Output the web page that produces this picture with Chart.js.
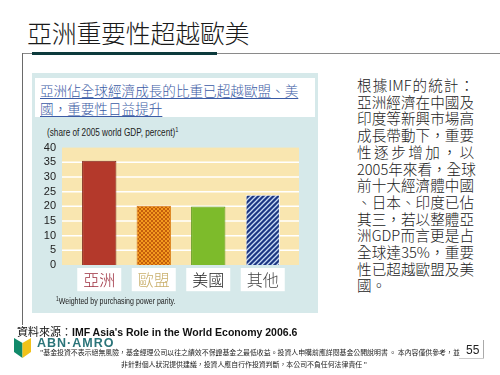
<!DOCTYPE html>
<html>
<head>
<meta charset="utf-8">
<script src="https://cdn.jsdelivr.net/npm/chart.js@4"></script>
<style>
  body{margin:0;width:500px;height:375px;background:#fff;position:relative;overflow:hidden;
       font-family:'Noto Sans CJK TC','Noto Sans',sans-serif;color:#222}
  .abs{position:absolute;white-space:nowrap}
  .title{left:27px;top:14px;font-size:25px;line-height:36px;color:#1a1a1a;font-weight:300;letter-spacing:-0.3px}
  .bar-dark{left:32px;top:52px;width:185px;height:3px;background:#0c3a3c}
  .line-h{left:22px;top:53px;width:478px;height:1px;background:#8a8a8a}
  .line-v{left:22px;top:53px;width:1px;height:272px;background:#6a6a6a}
  .panel{left:32px;top:73px;width:286px;height:240px;background:#d6e9ea}
  .head{left:35px;top:78px;width:280px;height:39px;background:#fff}
  .head div{position:absolute;left:5px;font-size:13.6px;line-height:18px;color:#3b5ba5;text-decoration:underline;text-underline-offset:2px;font-weight:300}
  .narrow{transform-origin:0 0;transform:scaleX(0.78)}
  .ylab{left:47px;top:126px;font-family:'Liberation Sans',sans-serif;font-size:10.5px;color:#222}
  .foot{left:56px;top:296px;font-family:'Liberation Sans',sans-serif;font-size:9px;color:#222}
  sup{font-size:70%;vertical-align:top;position:relative;top:-1px}
  .side{left:357px;top:77px;width:117px;font-size:14.6px;line-height:16.7px;color:#222;font-weight:300}
  .side div{text-align:justify;text-align-last:justify;white-space:nowrap}
  .src{left:17px;top:323px;font-size:11px;color:#111}
  .src b{font-family:'Liberation Sans',Arial,sans-serif;font-weight:bold;font-size:10.5px}
  .abn{left:37px;top:336px;font-family:'Liberation Sans',Arial,sans-serif;font-weight:bold;font-size:12.5px;color:#2b7479;letter-spacing:1px}
  .disc{font-size:6.9px;line-height:9px;color:#222;letter-spacing:0}
  .pg{left:466px;top:343px;font-family:'Liberation Sans',Arial,sans-serif;font-size:12px;color:#222}
  .pg-v{left:483px;top:340px;width:1px;height:19px;background:#aaa}
  .pg-h{left:459px;top:358px;width:25px;height:1px;background:#ccc}
  canvas{position:absolute;left:32px;top:125px}
</style>
</head>
<body>
<div class="abs title">亞洲重要性超越歐美</div>
<div class="abs line-h"></div>
<div class="abs bar-dark"></div>
<div class="abs line-v"></div>

<div class="abs panel"></div>
<div class="abs head">
  <div style="top:3px">亞洲佔全球經濟成長的比重已超越歐盟、美</div>
  <div style="top:21px">國，重要性日益提升</div>
</div>
<div class="abs ylab narrow">(share of 2005 world GDP, percent)<sup>1</sup></div>
<canvas id="chart" width="286" height="175"></canvas>
<div class="abs foot narrow"><sup>1</sup>Weighted by purchasing power parity.</div>

<div class="abs side">
  <div>根據IMF的統計：</div>
  <div>亞洲經濟在中國及</div>
  <div>印度等新興市場高</div>
  <div>成長帶動下，重要</div>
  <div>性逐步增加，以</div>
  <div>2005年來看，全球</div>
  <div>前十大經濟體中國</div>
  <div>、日本、印度已佔</div>
  <div>其三，若以整體亞</div>
  <div>洲GDP而言更是占</div>
  <div>全球達35%，重要</div>
  <div>性已超越歐盟及美</div>
  <div style="text-align-last:left">國。</div>
</div>

<div class="abs src">資料來源：<b>IMF Asia's Role in the World Economy 2006.6</b></div>
<svg class="abs" style="left:14px;top:338px" width="17" height="20" viewBox="0 0 17 20">
  <path d="M0 0 L8.5 5 L8.5 20 L0 14 Z" fill="#118a6a"/>
  <path d="M8.5 5 L17 0 L17 14 L8.5 20 Z" fill="#f2c21a"/>
</svg>
<div class="abs abn">ABN·AMRO</div>
<div class="abs disc" style="left:40px;top:348px">"基金投資不表示絕無風險，基金經理公司以往之績效不保證基金之最低收益。投資人申購前應詳閱基金公開說明書 。 本內容僅供參考，並</div>
<div class="abs disc" style="left:121px;top:360px">非針對個人狀況提供建議，投資人應自行作投資判斷，本公司不負任何法律責任 "</div>
<div class="abs pg">55</div>
<div class="abs pg-v"></div>
<div class="abs pg-h"></div>

<script>
const categories = ['亞洲', '歐盟', '美國', '其他'];
const shareValues = [35.5, 20.2, 19.9, 23.9];
const yTicks = [0, 5, 10, 15, 20, 25, 30, 35, 40];
const labelColors = ['#9c2c3c', '#c9af6c', '#222222', '#444444'];

function makePattern(base, line, size, width, cross){
  const c = document.createElement('canvas');
  c.width = size; c.height = size;
  const g = c.getContext('2d');
  g.fillStyle = base; g.fillRect(0,0,size,size);
  g.strokeStyle = line; g.lineWidth = width;
  g.beginPath();
  g.moveTo(-1, size + 1); g.lineTo(size + 1, -1);
  g.moveTo(-1, 1); g.lineTo(1, -1);
  g.moveTo(size - 1, size + 1); g.lineTo(size + 1, size - 1);
  if(cross){
    g.moveTo(-1, -1); g.lineTo(size + 1, size + 1);
  }
  g.stroke();
  return g.createPattern(c, 'repeat');
}

const ctx = document.getElementById('chart');
const euFill = makePattern('#f39a1e', '#c45e0c', 4, 1, true);
const otherFill = makePattern('#1c3683', '#c9dcf5', 5, 1.3, false);

// beige plot background + white gridlines, a bit wider than the bar area
const backdrop = {
  id: 'backdrop',
  beforeDatasetsDraw(chart){
    const { ctx, chartArea, scales } = chart;
    const y = scales.y;
    const left = chartArea.left - 10, right = chartArea.right + 9;
    ctx.save();
    ctx.fillStyle = '#f9e6b0';
    ctx.fillRect(left, y.getPixelForValue(40), right - left, y.getPixelForValue(0) - y.getPixelForValue(40));
    ctx.strokeStyle = '#ffffff';
    ctx.lineWidth = 1.5;
    yTicks.forEach(v => {
      if(v === 0 || v === 40) return;
      const py = y.getPixelForValue(v);
      ctx.beginPath(); ctx.moveTo(left, py); ctx.lineTo(right, py); ctx.stroke();
    });
    ctx.restore();
  }
};

new Chart(ctx, {
  type: 'bar',
  data: {
    labels: categories,
    datasets: [{
      data: shareValues,
      backgroundColor: ['#b4392b', euFill, '#7dbb2b', otherFill],
      borderColor: ['#7d2418', '#d9780e', '#5f9a1e', '#f2f2f2'],
      borderWidth: 1,
      categoryPercentage: 1,
      barPercentage: 0.63
    }]
  },
  options: {
    responsive: false,
    animation: false,
    layout: { padding: { top: 20, right: 28, left: 0, bottom: 0 } },
    plugins: { legend: { display: false }, tooltip: { enabled: false } },
    scales: {
      x: {
        grid: { display: false, drawTicks: false },
        border: { display: false },
        afterFit: s => { s.height = 35; },
        ticks: {
          padding: 5,
          font: { family: 'Noto Sans CJK TC', size: 16, weight: 300 },
          color: c => labelColors[c.index],
          showLabelBackdrop: true,
          backdropColor: '#ffffff',
          backdropPadding: { top: 2, bottom: 2, left: 6, right: 6 }
        }
      },
      y: {
        min: 0, max: 40,
        grid: { display: false, drawTicks: false },
        border: { display: false },
        afterFit: s => { s.width = 40; },
        afterBuildTicks: s => { s.ticks = yTicks.map(v => ({ value: v })); },
        ticks: {
          autoSkip: false,
          padding: 16,
          font: { family: "'Liberation Sans'", size: 11 },
          color: '#222'
        }
      }
    }
  },
  plugins: [backdrop]
});
</script>
</body>
</html>
